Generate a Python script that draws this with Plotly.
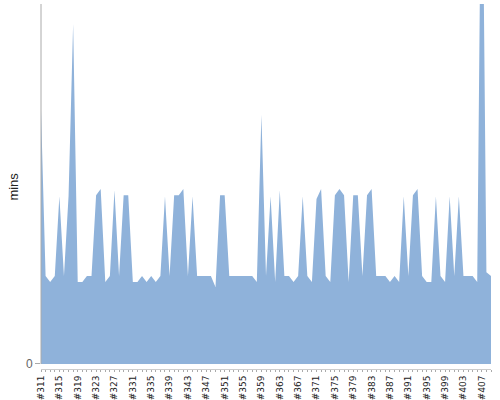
import plotly.graph_objects as go

# Categories #311 .. #409
categories = ["#%d" % n for n in range(311, 410)]

# Minutes per item
minutes = [
    46.2, 16.0, 14.9, 16.0, 30.5, 16.0, 30.5, 61.8, 14.9, 14.9,
    16.0, 16.0, 30.7, 31.8, 14.9, 16.0, 31.6, 16.0, 30.7, 30.7,
    14.9, 14.9, 16.0, 14.9, 16.0, 14.9, 16.0, 30.5, 16.0, 30.7,
    30.7, 31.8, 16.0, 30.5, 16.0, 16.0, 16.0, 16.0, 14.0, 30.7,
    30.7, 16.0, 16.0, 16.0, 16.0, 16.0, 16.0, 14.9, 45.3, 16.0,
    30.5, 14.9, 31.6, 16.0, 16.0, 14.9, 16.0, 30.5, 16.0, 14.9,
    30.0, 31.8, 16.0, 14.9, 30.7, 31.8, 30.7, 14.9, 30.7, 30.7,
    16.0, 30.7, 31.8, 16.0, 16.0, 16.0, 14.9, 16.0, 14.9, 30.5,
    16.0, 30.7, 31.8, 16.0, 14.9, 14.9, 30.5, 16.0, 14.9, 30.5,
    16.0, 30.5, 16.0, 16.0, 16.0, 14.9, 105.5, 16.7, 16.0,
]

tick_labels = [c if i % 4 == 0 else "" for i, c in enumerate(categories)]

y_min, y_max = -0.91, 65.45

fig = go.Figure()
fig.add_trace(go.Scatter(
    x=categories, y=minutes, mode="lines", fill="tozeroy",
    line=dict(width=0, color="#8fb2da"), fillcolor="#8fb2da",
    hoverinfo="skip", showlegend=False,
))

fig.update_layout(
    width=500, height=400,
    margin=dict(l=41, r=9, t=4, b=31, autoexpand=False),
    paper_bgcolor="white", plot_bgcolor="white",
    xaxis=dict(
        type="category", categoryorder="array", categoryarray=categories,
        range=[0, len(categories) - 1], automargin=False,
        tickmode="array", tickvals=categories, ticktext=tick_labels,
        ticks="outside", ticklen=2, tickcolor="#aaaaaa", tickwidth=1,
        showline=True, linecolor="#cccccc", linewidth=1,
        showgrid=False, zeroline=False, tickangle=-90,
        tickfont=dict(family="DejaVu Sans", size=9, color="#222222"),
    ),
    yaxis=dict(
        range=[y_min, y_max], automargin=False,
        tickmode="array", tickvals=[0], ticktext=["0"],
        ticks="outside", ticklen=5, tickcolor="#aaaaaa",
        showline=False, showgrid=False, zeroline=False,
        tickfont=dict(family="Liberation Sans", size=12, color="#666666"),
    ),
    shapes=[dict(type="line", xref="paper", yref="y", x0=0, x1=0, y0=0, y1=y_max,
                 line=dict(color="#aaaaaa", width=1))],
    annotations=[dict(text="mins", xref="paper", yref="paper", x=-0.062, y=0.5,
                      xanchor="center", yanchor="middle", textangle=-90, showarrow=False,
                      font=dict(family="Liberation Sans", size=13, color="#222222"))],
)

fig.write_html("out.html", config={"displayModeBar": False},
               post_script="document.body.style.margin='0';")
